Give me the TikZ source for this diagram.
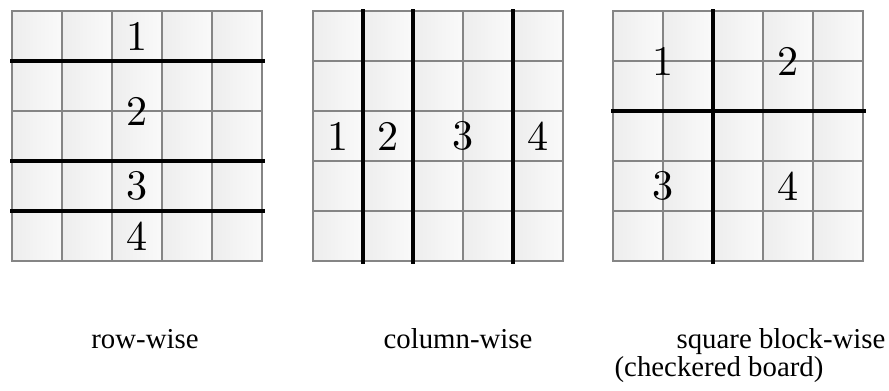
\documentclass[tikz,border=0pt]{standalone}
\usepackage{fontspec}
\newfontfamily\capfont{Liberation Serif}
\newfontfamily\numfont{lmroman10-regular.otf}
\usetikzlibrary{positioning}
\tikzset{
  cell/.style={draw=black!48, line width=0.7pt, left color=black!7, right color=black!2},
  divider/.style={line width=1.8pt, black},
  num/.style={font=\numfont\fontsize{24}{28}\selectfont, inner sep=0pt},
  caption/.style={font=\capfont\fontsize{16.4}{19}\selectfont, inner sep=0pt, anchor=base}
}
\begin{document}
\begin{tikzpicture}[x=0.02cm, y=-0.02cm]
\useasboundingbox (0,0) rectangle (889,390);

% three 5x5 boards
\foreach \gx in {12,313,613}
  \foreach \i in {0,...,4}
    \foreach \j in {0,...,4}
      \draw[cell] (\gx+\i*50,11+\j*50) rectangle ++(50,50);

% row-wise cuts
\foreach \y in {61,161,211}
  \draw[divider] (10,\y) -- (265,\y);
% column-wise cuts
\foreach \x in {363,413,513}
  \draw[divider] (\x,9) -- (\x,264);
% block-wise cuts
\draw[divider] (713,9) -- (713,264);
\draw[divider] (611,111) -- (866,111);

% part numbers
\foreach \n/\px/\py in {1/137/36, 2/137/111, 3/137/186, 4/137/236}
  \node[num] (row\n) at (\px,\py) {\n};
\foreach \n/\px/\py in {1/338/136, 2/388/136, 3/463/136, 4/538/136}
  \node[num] (col\n) at (\px,\py) {\n};
\foreach \n/\px/\py in {1/663/61, 2/788/61, 3/663/186, 4/788/186}
  \node[num] (blk\n) at (\px,\py) {\n};

% captions
\node[caption] (rowcap) at (145,348) {row-wise};
\node[caption] (colcap) at (458,348) {column-wise};
\node[caption] (blkcap) at (781,348) {square block-wise};
\node[caption] (blkcap2) at (719,376) {(checkered board)};
\end{tikzpicture}
\end{document}
